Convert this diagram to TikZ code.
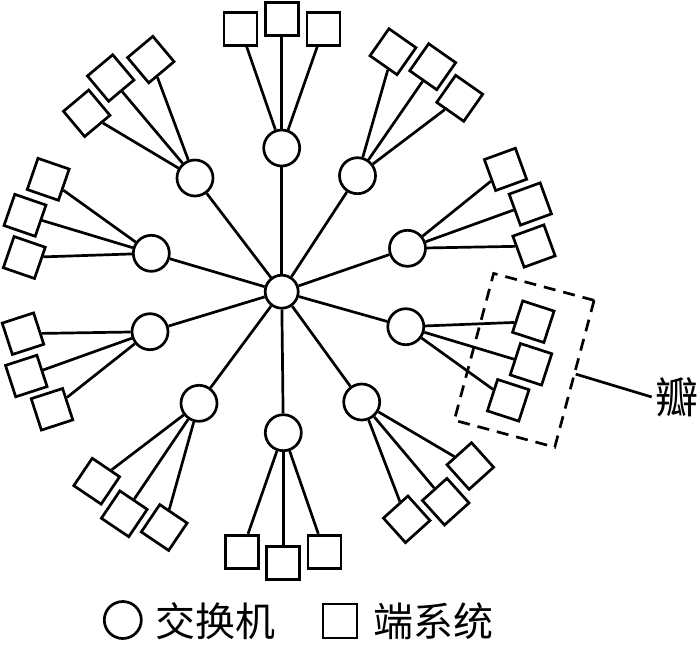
\documentclass[tikz,border=0pt]{standalone}
\usepackage{fontspec}
\newfontfamily\cjk{Noto Sans CJK SC}
\begin{document}
\begin{tikzpicture}[x=1pt, y=-1pt, line width=2.7pt,
    switch/.style={circle, draw, fill=white, minimum size=36pt, inner sep=0pt},
    endsys/.style={rectangle, draw, fill=white, minimum size=33pt, inner sep=0pt},
    petal/.style={draw, dash pattern=on 12pt off 8pt, minimum width=104pt, minimum height=152pt, inner sep=0pt},
    legend/.style={anchor=west, inner sep=0pt, font=\cjk\fontsize{40}{40}\selectfont}]
        \useasboundingbox (0,0) rectangle (700,650);

        % Hub in the middle
        \node[switch, minimum size=33pt] (hub) at (281.7,291.7) {};

        % Switches around the hub
        \foreach \n/\x/\y in {1/281.7/148, 2/357.5/175.7, 3/407.5/248.3, 4/405.8/326.7, 5/361.7/402,
                              6/283.3/432.7, 7/199/403.3, 8/150/331.7, 9/151.3/253.3, 10/195/178} {
            \node[switch] (sw\n) at (\x,\y) {};
            \draw (hub) -- (sw\n);
        }

        % Three end systems on each switch
        \foreach \n/\r/\ax/\ay/\bx/\by/\cx/\cy in {
                1/0/240.5/28.8/281.7/18.7/323.5/28.8,
                2/-35/393/51.7/432.7/66.7/459.7/98.3,
                3/20/505.5/169.4/530.3/204/534/246,
                4/-18/533.3/321.7/531/364.3/508.2/400.3,
                5/42/470.3/466/445.7/501.7/406.7/519.3,
                6/0/241.8/551.7/283.3/563.3/324.5/551.7,
                7/-34/96.7/481.2/124.3/513.8/164.2/527.5,
                8/18/23/333.7/26.3/376/52/409.3,
                9/-19/48.2/179.3/25/215.3/24.3/257.5,
                10/40/150.8/59.6/110.7/78/86.7/113.3} {
            \node[endsys, rotate=\r] (es\n a) at (\ax,\ay) {};
            \node[endsys, rotate=\r] (es\n b) at (\bx,\by) {};
            \node[endsys, rotate=\r] (es\n c) at (\cx,\cy) {};
            \draw (sw\n) -- (es\n a);
            \draw (sw\n) -- (es\n b);
            \draw (sw\n) -- (es\n c);
        }

        % One petal marked
        \node[petal, rotate=-15] (pet) at (524.2,360.3) {};
        \node[legend, inner sep=2pt, font=\cjk\fontsize{43}{43}\selectfont] (petlabel) at (651.7,397) {瓣};
        \draw (pet.east) -- (petlabel.west);

        % Legend
        \node[switch, minimum size=37pt] (keysw) at (122.8,620) {};
        \node[legend] (keyswtext) at (154,621) {交换机};
        \node[endsys, minimum size=34pt] (keyes) at (340,621) {};
        \node[legend] (keyestext) at (372,621) {端系统};
\end{tikzpicture}
\end{document}
